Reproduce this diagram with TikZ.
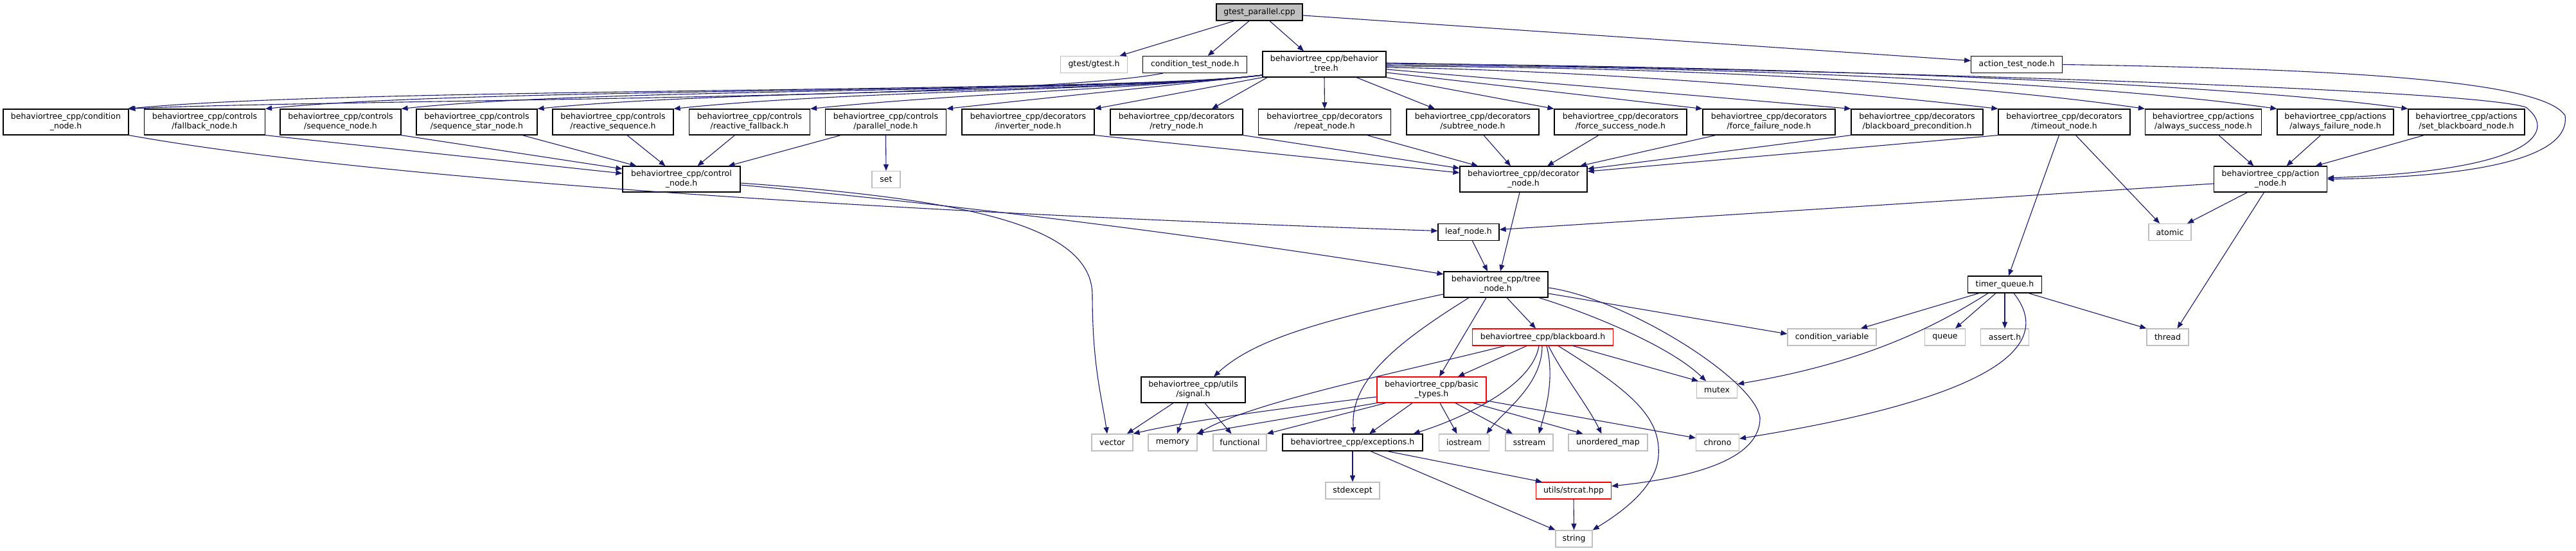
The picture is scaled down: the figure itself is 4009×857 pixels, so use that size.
\documentclass[tikz,border=0pt]{standalone}
\usepackage{fontspec}
\setmainfont{DejaVu Sans}
\usetikzlibrary{arrows.meta}
\definecolor{edgec}{HTML}{191970}
\definecolor{grayb}{HTML}{BFBFBF}
\definecolor{mainfill}{HTML}{BFBFBF}
\tikzset{
 nbox/.style={draw=black, line width=1.2pt, fill=white, inner sep=0pt, align=center, font=\fontsize{12.5}{15}\selectfont},
 sysbox/.style={nbox, draw=grayb},
 redbox/.style={nbox, draw=red},
 mainbox/.style={nbox, fill=mainfill},
 e/.style={draw=edgec, line width=1.1pt, -{Triangle[length=10pt,width=8pt]}},
}
\newcommand{\mynode}[7]{\node[#6, minimum width=#4, minimum height=#5] (#1) at (#2,#3) {#7};}
\begin{document}
\begin{tikzpicture}[x=1pt,y=-1pt]
\useasboundingbox[fill=white] (0,0) rectangle (4009,857);
% top
\mynode{main}{1960}{19}{134}{26}{mainbox}{gtest\_parallel.cpp}
\mynode{gtest}{1702.5}{100.5}{104}{26}{sysbox}{gtest/gtest.h}
\mynode{condtest}{1859.7}{100.5}{162}{26}{nbox}{condition\_test\_node.h}
\mynode{bt}{2061}{100}{192}{40}{nbox}{behaviortree\_cpp/behavior\\\_tree.h}
\mynode{acttest}{3138.7}{100.5}{142}{26}{nbox}{action\_test\_node.h}
% row 2
\mynode{condnode}{102.5}{190}{195}{40}{nbox}{behaviortree\_cpp/condition\\\_node.h}
\mynode{fallback}{318.5}{190}{188}{40}{nbox}{behaviortree\_cpp/controls\\/fallback\_node.h}
\mynode{sequence}{530}{190}{188}{40}{nbox}{behaviortree\_cpp/controls\\/sequence\_node.h}
\mynode{seqstar}{742}{190}{188}{40}{nbox}{behaviortree\_cpp/controls\\/sequence\_star\_node.h}
\mynode{reactseq}{954}{190}{188}{40}{nbox}{behaviortree\_cpp/controls\\/reactive\_sequence.h}
\mynode{reactfb}{1166.5}{190}{188}{40}{nbox}{behaviortree\_cpp/controls\\/reactive\_fallback.h}
\mynode{parallel}{1378.5}{190}{188}{40}{nbox}{behaviortree\_cpp/controls\\/parallel\_node.h}
\mynode{inverter}{1600}{190}{206}{40}{nbox}{behaviortree\_cpp/decorators\\/inverter\_node.h}
\mynode{retry}{1831}{190}{206}{40}{nbox}{behaviortree\_cpp/decorators\\/retry\_node.h}
\mynode{repeat}{2061.5}{190}{206}{40}{nbox}{behaviortree\_cpp/decorators\\/repeat\_node.h}
\mynode{subtree}{2292}{190}{206}{40}{nbox}{behaviortree\_cpp/decorators\\/subtree\_node.h}
\mynode{forcesucc}{2522}{190}{206}{40}{nbox}{behaviortree\_cpp/decorators\\/force\_success\_node.h}
\mynode{forcefail}{2753}{190}{206}{40}{nbox}{behaviortree\_cpp/decorators\\/force\_failure\_node.h}
\mynode{bbprec}{2983.5}{190}{205}{40}{nbox}{behaviortree\_cpp/decorators\\/blackboard\_precondition.h}
\mynode{timeout}{3212.5}{190}{205}{40}{nbox}{behaviortree\_cpp/decorators\\/timeout\_node.h}
\mynode{alwsucc}{3429}{190}{181}{40}{nbox}{behaviortree\_cpp/actions\\/always\_success\_node.h}
\mynode{alwfail}{3634.5}{190}{181}{40}{nbox}{behaviortree\_cpp/actions\\/always\_failure\_node.h}
\mynode{setbb}{3838.5}{190}{181}{40}{nbox}{behaviortree\_cpp/actions\\/set\_blackboard\_node.h}
% row 3
\mynode{control}{1060.5}{279}{183}{40}{nbox}{behaviortree\_cpp/control\\\_node.h}
\mynode{set}{1379}{279.5}{44}{26}{sysbox}{set}
\mynode{decorator}{2371}{279}{198}{40}{nbox}{behaviortree\_cpp/decorator\\\_node.h}
\mynode{action}{3533.5}{279}{176}{40}{nbox}{behaviortree\_cpp/action\\\_node.h}
% row 4,5
\mynode{leaf}{2285.5}{361.5}{95}{26}{nbox}{leaf\_node.h}
\mynode{atomic}{3377}{361.5}{66}{26}{sysbox}{atomic}
\mynode{tree}{2328}{443}{162}{40}{nbox}{behaviortree\_cpp/tree\\\_node.h}
\mynode{timerq}{3120}{443}{115}{26}{nbox}{timer\_queue.h}
% row 6
\mynode{bb}{2401}{525}{219}{26}{redbox}{behaviortree\_cpp/blackboard.h}
\mynode{condvar}{2851}{525}{138}{26}{sysbox}{condition\_variable}
\mynode{queue}{3027}{525}{63}{26}{sysbox}{queue}
\mynode{assert}{3120}{525}{75}{26}{sysbox}{assert.h}
\mynode{thread}{3373.5}{525}{65}{26}{sysbox}{thread}
% row 7
\mynode{signal}{1857}{607}{162}{40}{nbox}{behaviortree\_cpp/utils\\/signal.h}
\mynode{basic}{2228}{607}{170}{40}{redbox}{behaviortree\_cpp/basic\\\_types.h}
\mynode{mutex}{2672}{607}{63}{26}{sysbox}{mutex}
% row 8
\mynode{vector}{1731}{689}{64}{26}{sysbox}{vector}
\mynode{memory}{1825}{689}{76}{26}{sysbox}{memory}
\mynode{functional}{1929.5}{689}{83}{26}{sysbox}{functional}
\mynode{exceptions}{2105}{689}{218}{26}{nbox}{behaviortree\_cpp/exceptions.h}
\mynode{iostream}{2278.5}{689}{78}{26}{sysbox}{iostream}
\mynode{sstream}{2380}{689}{74}{26}{sysbox}{sstream}
\mynode{unordered}{2502.5}{689}{123}{26}{sysbox}{unordered\_map}
\mynode{chrono}{2673}{689}{67}{26}{sysbox}{chrono}
% row 9,10
\mynode{stdexcept}{2105}{764}{84}{26}{sysbox}{stdexcept}
\mynode{strcat}{2449}{764}{117}{26}{redbox}{utils/strcat.hpp}
\mynode{string}{2449.5}{839}{57}{26}{sysbox}{string}

% ---- edges from main
\draw[e] ([xshift=-39]main.south) -- ([xshift=40]gtest.north);
\draw[e] ([xshift=-16]main.south) -- ([xshift=20]condtest.north);
\draw[e] ([xshift=16]main.south) -- ([xshift=-32]bt.north);
\draw[e] ([yshift=-5]main.east) -- ([yshift=6]acttest.west);
% condition_test -> condition_node
\draw[e] ([xshift=-50]condtest.south) .. controls (1600,155) and (500,155) .. (condnode.north east);
% behavior_tree -> left row
\draw[e] ([yshift=-17]bt.west) .. controls (1750,145) and (550,135) .. ([xshift=-2]condnode.north east);
\draw[e] ([yshift=-17]bt.west) .. controls (1750,145) and (750,135) .. (fallback.north east);
\draw[e] ([yshift=-17]bt.west) .. controls (1750,145) and (950,135) .. (sequence.north east);
\draw[e] ([yshift=-17]bt.west) .. controls (1750,145) and (1150,138) .. (seqstar.north east);
\draw[e] ([yshift=-17]bt.west) .. controls (1750,142) and (1330,140) .. (reactseq.north east);
\draw[e] ([yshift=-17]bt.west) .. controls (1780,138) and (1500,145) .. (reactfb.north east);
\draw[e] ([yshift=-17]bt.west) .. controls (1850,130) and (1650,150) .. (parallel.north east);
\draw[e] (bt.south west) -- (inverter.north east);
\draw[e] ([xshift=8]bt.south west) -- ([xshift=55]retry.north);
\draw[e] (bt.south) -- (repeat.north);
\draw[e] ([xshift=50]bt.south) -- ([xshift=-59]subtree.north);
\draw[e] (bt.south east) -- (forcesucc.north west);
\draw[e] ([yshift=-13]bt.east) -- (forcefail.north west);
\draw[e] ([yshift=-8]bt.east) -- (bbprec.north west);
\draw[e] ([yshift=-5]bt.east) .. controls (2500,110) and (2900,145) .. (timeout.north west);
\draw[e] ([yshift=-3]bt.east) .. controls (2700,105) and (3100,135) .. (alwsucc.north west);
\draw[e] ([yshift=-1]bt.east) .. controls (2800,105) and (3300,135) .. (alwfail.north west);
\draw[e] ([yshift=1]bt.east) .. controls (2900,105) and (3500,135) .. (setbb.north west);
\draw[e] ([yshift=2]bt.east) .. controls (3000,112) and (3850,140) .. (3931,167) .. controls (3975,200) and (3960,265) .. ([yshift=2]action.east);
% action_test -> action_node
\draw[e] (acttest.east) .. controls (3700,108) and (3960,130) .. (3992,180) .. controls (4000,240) and (3880,275) .. (action.east);
% controls -> control_node
\draw[e] (fallback.south east) -- ([yshift=9]control.west);
\draw[e] (sequence.south east) -- ([yshift=16]control.west);
\draw[e] ([xshift=71]seqstar.south) -- ([xshift=-70]control.north);
\draw[e] ([xshift=22]reactseq.south) -- ([xshift=-25]control.north);
\draw[e] ([xshift=-23]reactfb.south) -- ([xshift=25]control.north);
\draw[e] ([xshift=-70]parallel.south) -- ([xshift=73]control.north);
\draw[e] (parallel.south) -- (set.north);
% decorators -> decorator_node
\draw[e] (inverter.south east) -- ([yshift=10]decorator.west);
\draw[e] (retry.south east) -- ([yshift=17]decorator.west);
\draw[e] ([xshift=66]repeat.south) -- ([xshift=-71]decorator.north);
\draw[e] ([xshift=17]subtree.south) -- ([xshift=-20]decorator.north);
\draw[e] ([xshift=-34]forcesucc.south) -- ([xshift=37]decorator.north);
\draw[e] ([xshift=-83]forcefail.south) -- ([xshift=88]decorator.north);
\draw[e] (bbprec.south west) -- ([yshift=16]decorator.east);
\draw[e] (timeout.south west) -- ([yshift=12]decorator.east);
% actions -> action_node
\draw[e] ([xshift=24]alwsucc.south) -- ([xshift=-26]action.north);
\draw[e] ([xshift=-23]alwfail.south) -- ([xshift=25]action.north);
\draw[e] ([xshift=-66]setbb.south) -- ([xshift=70]action.north);
% timeout
\draw[e] ([xshift=18]timeout.south) -- ([xshift=-16]atomic.north);
\draw[e] ([xshift=-8]timeout.south) -- ([xshift=6]timerq.north);
% action_node
\draw[e] ([yshift=-7]action.west) -- ([yshift=4]leaf.east);
\draw[e] ([xshift=-36]action.south) -- ([xshift=27]atomic.north);
\draw[e] ([xshift=-10]action.south) -- ([xshift=15]thread.north);
% condition_node, control_node
\draw[e] (condnode.south east) .. controls (700,300) and (1800,345) .. ([yshift=2]leaf.west);
\draw[e] ([yshift=-9]control.east) .. controls (1500,320) and (1900,370) .. ([yshift=16]tree.west);
\draw[e] ([yshift=-6]control.east) .. controls (1500,310) and (1700,350) .. (1700,460) .. controls (1700,570) and (1715,620) .. ([xshift=-8]vector.north);
% to tree_node
\draw[e] ([xshift=-6]decorator.south) -- ([xshift=7]tree.north);
\draw[e] ([xshift=6]leaf.south) -- ([xshift=-13]tree.north);
% tree_node
\draw[e] ([xshift=17]tree.south) -- ([xshift=-11]bb.north);
\draw[e] ([xshift=-15]tree.south) -- ([xshift=12]basic.north);
\draw[e] ([yshift=-15]tree.west) .. controls (2050,500) and (1950,530) .. ([xshift=32]signal.north);
\draw[e] ([xshift=-42]tree.south) .. controls (2180,530) and (2100,590) .. ([xshift=2]exceptions.north);
\draw[e] ([xshift=67]tree.south) .. controls (2480,490) and (2600,540) .. ([xshift=-17]mutex.north);
\draw[e] ([yshift=-14]tree.east) -- ([yshift=5]condvar.west);
\draw[e] ([yshift=-5]tree.east) .. controls (2530,465) and (2730,590) .. (2739,650) .. controls (2740,720) and (2620,745) .. ([yshift=7]strcat.east);
% blackboard
\draw[e] ([xshift=-59]bb.south) .. controls (2200,575) and (1950,625) .. (memory.north east);
\draw[e] ([xshift=-25]bb.south) -- ([xshift=41]basic.north);
\draw[e] ([xshift=-6]bb.south) .. controls (2385,600) and (2280,650) .. ([xshift=-15]exceptions.north east);
\draw[e] ([xshift=-1]bb.south) .. controls (2400,600) and (2340,640) .. ([xshift=35]iostream.north);
\draw[e] ([xshift=6]bb.south) .. controls (2420,590) and (2405,640) .. ([xshift=15]sstream.north);
\draw[e] ([xshift=9]bb.south) .. controls (2430,580) and (2470,630) .. ([xshift=-10]unordered.north);
\draw[e] ([xshift=24]bb.south) .. controls (2540,610) and (2585,650) .. (2581,710) .. controls (2578,760) and (2520,800) .. (string.north east);
\draw[e] ([xshift=47]bb.south) -- ([xshift=-29]mutex.north);
% basic_types
\draw[e] ([yshift=-11]basic.west) .. controls (2000,635) and (1850,655) .. (vector.north east);
\draw[e] (basic.south west) -- ([xshift=-2]memory.north east);
\draw[e] ([xshift=14]basic.south west) -- (functional.north east);
\draw[e] ([xshift=-30]basic.south) -- ([xshift=26]exceptions.north);
\draw[e] ([xshift=13]basic.south) -- ([xshift=-11]iostream.north);
\draw[e] ([xshift=37]basic.south) -- ([xshift=-26]sstream.north);
\draw[e] ([xshift=65]basic.south) -- ([xshift=-39]unordered.north);
\draw[e] ([yshift=-17]basic.east) -- ([yshift=7]chrono.west);
% signal
\draw[e] ([xshift=-31]signal.south) -- ([xshift=23]vector.north);
\draw[e] ([xshift=-8]signal.south) -- ([xshift=7]memory.north);
\draw[e] ([xshift=18]signal.south) -- ([xshift=-13]functional.north);
% exceptions, strcat
\draw[e] (exceptions.south) -- (stdexcept.north);
\draw[e] ([xshift=28]exceptions.south) -- (string.north west);
\draw[e] ([xshift=54]exceptions.south) -- ([xshift=10]strcat.north west);
\draw[e] (strcat.south) -- (string.north);
% timer_queue
\draw[e] ([xshift=-40]timerq.south) -- ([xshift=45]condvar.north);
\draw[e] ([xshift=-26]timerq.south) .. controls (3010,510) and (2900,565) .. ([yshift=9]mutex.east);
\draw[e] ([xshift=-14]timerq.south) -- ([xshift=16]queue.north);
\draw[e] (timerq.south) -- (assert.north);
\draw[e] ([xshift=14]timerq.south) .. controls (3200,540) and (3100,620) .. ([yshift=6]chrono.east);
\draw[e] ([xshift=37]timerq.south) -- (thread.north west);
\end{tikzpicture}
\end{document}
